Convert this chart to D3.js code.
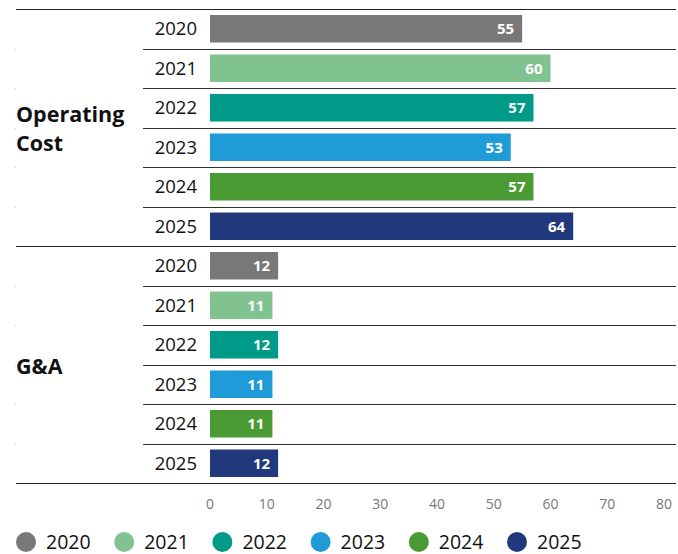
<!DOCTYPE html>
<html>
<head>
<meta charset="utf-8">
<script src="https://cdn.jsdelivr.net/npm/d3@7"></script>
<style>
  body { margin: 0; background: #fff; }
  text { font-family: "Open Sans", Lato, sans-serif; }
</style>
</head>
<body>
<script>
// data
const groups = ["Operating Cost", "G&A"]
const years = ["2020", "2021", "2022", "2023", "2024", "2025"]
const opCost = [55, 60, 57, 53, 57, 64]
const gna = [12, 11, 12, 11, 11, 12]
const ticks = [0, 10, 20, 30, 40, 50, 60, 70, 80]
const colors = ["#787878", "#80c391", "#009a88", "#1f9bd7", "#4b9b35", "#22387d"]

const W = 678, H = 554
const topY = 9, rowH = 39.5

var svg = d3.select("body").append("svg")
  .attr("width", W).attr("height", H)

var x = d3.scaleLinear().domain([0, 80]).range([210, 664])
var color = d3.scaleOrdinal().domain(years).range(colors)

const allData = [opCost, gna]

allData.forEach((vals, gi) => {
  let g = svg.append("g")
  let y0 = topY + gi * rowH * years.length
  let y = d3.scaleBand().domain(years).range([y0, y0 + rowH * years.length])

  // row lines
  g.selectAll("line.row")
    .data(years.slice(1))
    .enter().append("line")
    .attr("x1", 143).attr("x2", 676)
    .attr("y1", d => Math.round(y(d)) + 0.5).attr("y2", d => Math.round(y(d)) + 0.5)
    .attr("stroke", "#333").attr("stroke-width", 1)

  // small marks on left edge
  g.selectAll("rect.dot")
    .data(years.slice(1))
    .enter().append("rect")
    .attr("x", 15).attr("width", 1).attr("height", 1)
    .attr("y", d => Math.round(y(d)))
    .attr("fill", "#ccc")

  g.selectAll("rect.bar")
    .data(vals)
    .enter().append("rect")
    .attr("x", x(0))
    .attr("y", (d, i) => y(years[i]) + 6)
    .attr("width", d => x(d) - x(0))
    .attr("height", 27.5)
    .attr("fill", (d, i) => color(years[i]))

  g.selectAll("text.val")
    .data(vals)
    .enter().append("text")
    .attr("x", d => x(d) - 8)
    .attr("y", (d, i) => y(years[i]) + 20)
    .attr("dy", "0.35em")
    .attr("text-anchor", "end")
    .attr("fill", "#fff")
    .attr("font-weight", "bold")
    .attr("font-size", 15)
    .text(d => d)

  g.selectAll("text.year")
    .data(years)
    .enter().append("text")
    .attr("x", 197)
    .attr("y", d => y(d) + 20)
    .attr("dy", "0.35em")
    .attr("text-anchor", "end")
    .attr("fill", "#111")
    .attr("font-size", 18.5)
    .text(d => d)
})

// group labels
var lab1 = svg.append("text")
  .attr("x", 16).attr("y", 122)
  .attr("font-size", 21.5).attr("font-weight", "bold").attr("fill", "#111")
lab1.append("tspan").attr("x", 16).text("Operating")
lab1.append("tspan").attr("x", 16).attr("dy", 29).text("Cost")

svg.append("text")
  .attr("x", 16).attr("y", 374)
  .attr("font-size", 21.5).attr("font-weight", "bold").attr("fill", "#111")
  .text(groups[1])

// group lines
const bigLines = [topY, topY + rowH * 6, topY + rowH * 12]
svg.selectAll("line.big")
  .data(bigLines)
  .enter().append("line")
  .attr("x1", 16).attr("x2", 676)
  .attr("y1", d => Math.round(d) + 0.5).attr("y2", d => Math.round(d) + 0.5)
  .attr("stroke", "#222").attr("stroke-width", 1.2)

// axis labels
svg.append("g").selectAll("text")
  .data(ticks)
  .enter().append("text")
  .attr("x", d => x(d))
  .attr("y", 504)
  .attr("dy", "0.35em")
  .attr("text-anchor", "middle")
  .attr("fill", "#777")
  .attr("font-size", 14)
  .text(d => d)

// legend
var leg = svg.append("g").selectAll("g")
  .data(years)
  .enter().append("g")
  .attr("transform", (d, i) => "translate(" + (26 + i * 98.2) + ",542)")

leg.append("circle").attr("r", 10).attr("fill", d => color(d))
leg.append("text")
  .attr("x", 20).attr("dy", "0.35em")
  .attr("font-size", 19.5).attr("fill", "#111")
  .text(d => d)
</script>
</body>
</html>
